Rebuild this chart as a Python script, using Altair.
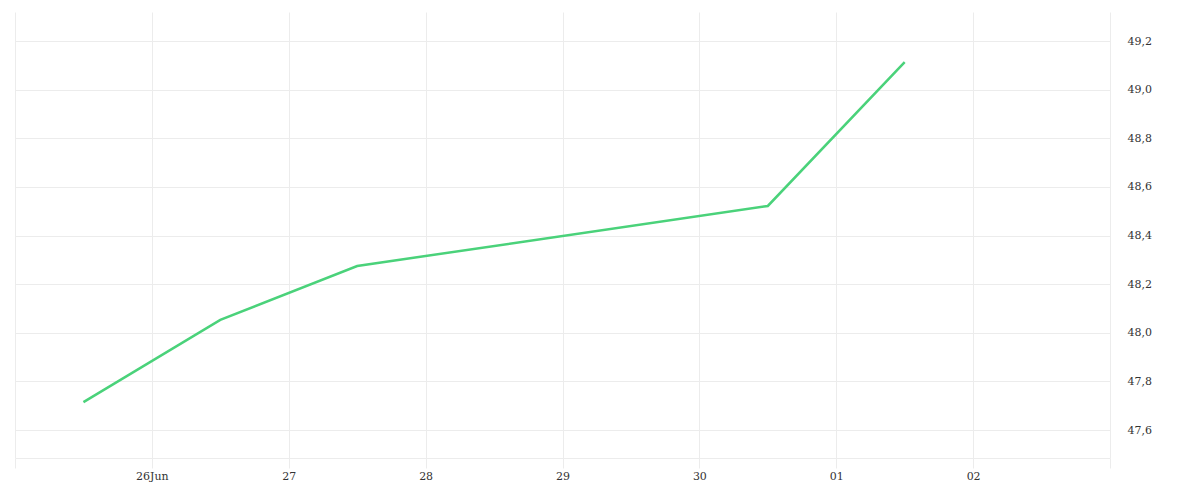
import altair as alt
import pandas as pd

dates = ["2025-06-25T12:00:00", "2025-06-26T12:00:00", "2025-06-27T12:00:00",
         "2025-06-30T12:00:00", "2025-07-01T12:00:00"]
values = [47.715, 48.053, 48.275, 48.522, 49.114]
tick_dates = ["2025-06-25", "2025-06-26", "2025-06-27", "2025-06-28", "2025-06-29",
              "2025-06-30", "2025-07-01", "2025-07-02", "2025-07-03"]
y_ticks = [47.6, 47.8, 48.0, 48.2, 48.4, 48.6, 48.8, 49.0, 49.2]

df = pd.DataFrame({"date": pd.to_datetime(dates), "value": values})

tick_vals = [alt.DateTime(year=int(d[:4]), month=int(d[5:7]), date=int(d[8:10])) for d in tick_dates]

grid = "#ececec"
font = "DejaVu Serif"

chart = alt.Chart(df).mark_line(color="#4ad27a", strokeWidth=2.5).encode(
    x=alt.X("date:T",
            scale=alt.Scale(domain=[alt.DateTime(year=2025, month=6, date=25),
                                    alt.DateTime(year=2025, month=7, date=3)]),
            axis=alt.Axis(values=tick_vals, title=None, grid=True, gridColor=grid,
                          domainColor=grid, tickColor=grid, tickSize=10,
                          labelExpr="(datum.index == 0 || datum.index == 1) ? '' : (timeFormat(datum.value, '%d') + (datum.index == 0.125 ? 'Jun' : ''))",
                          labelFont=font, labelFontSize=11, labelColor="#333333",
                          labelPadding=2, labelFlush=False)),
    y=alt.Y("value:Q",
            scale=alt.Scale(domain=[47.485, 49.32], nice=False, zero=False),
            axis=alt.Axis(orient="right", values=y_ticks, title=None, grid=True,
                          gridColor=grid, domain=False, ticks=False,
                          labelExpr="replace(format(datum.value, '.1f'), '.', ',')",
                          labelFont=font, labelFontSize=11, labelColor="#333333",
                          labelPadding=17)),
).properties(
    width=1095, height=446,
    autosize=alt.AutoSizeParams(type="none"),
    padding={"left": 7, "top": 4, "right": 70, "bottom": 30},
).configure_view(stroke=None)

chart.save("out.html", embed_options={"renderer": "svg", "actions": False})
